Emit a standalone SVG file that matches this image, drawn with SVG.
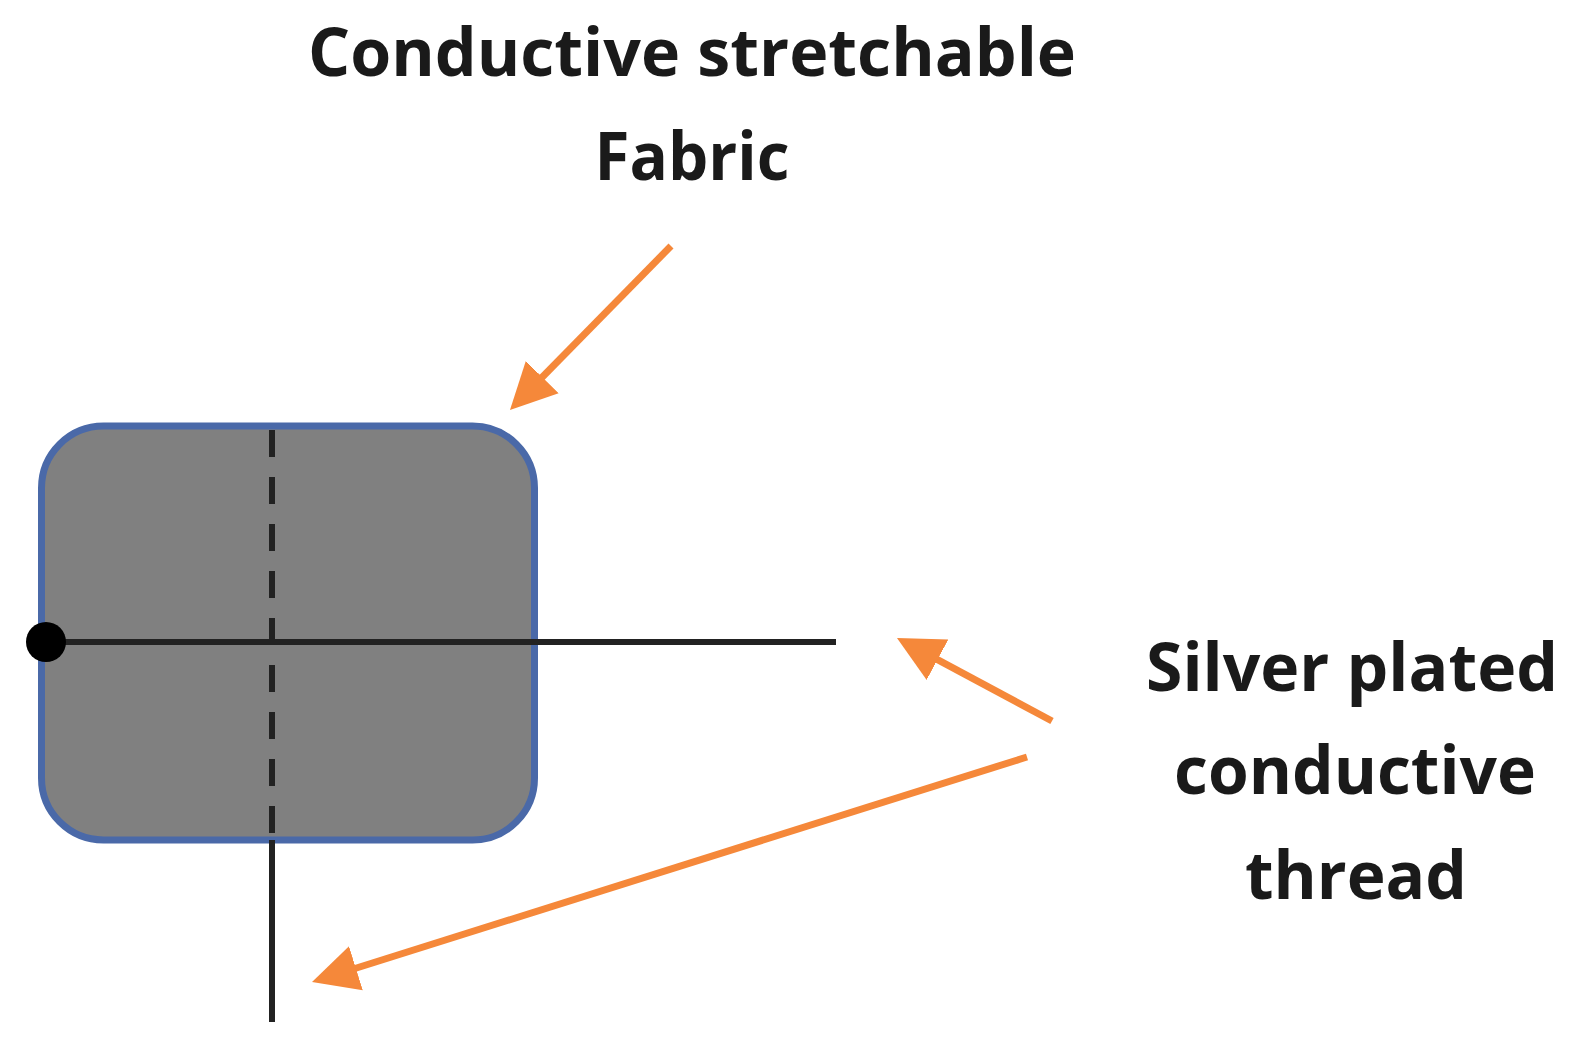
<svg xmlns="http://www.w3.org/2000/svg" width="1587" height="1053" viewBox="0 0 1587 1053">
<style>
.lbl{font-family:"Open Sans","Liberation Sans",sans-serif;font-weight:700;font-size:66px;fill:#1a1a1a}
.arr{stroke:#f5883a;stroke-width:7;fill:none;stroke-linecap:butt}
.thr{stroke:#222;stroke-width:6;fill:none}
</style>
<defs>
<marker id="ah" markerUnits="userSpaceOnUse" markerWidth="50" markerHeight="50" viewBox="0 0 50 50" refX="26" refY="25" orient="auto">
<path d="M0,2 L46,25 L0,48 Z" fill="#f5883a"/>
</marker>
</defs>
<rect width="1587" height="1053" fill="#ffffff"/>
<g id="fabric">
<rect x="41.5" y="426" width="493" height="414" rx="62" ry="62" fill="#808080" stroke="#4a69a8" stroke-width="7"/>
</g>
<g id="thread-vertical">
<line class="thr" x1="272" y1="430" x2="272" y2="840" stroke-dasharray="27,20"/>
<line class="thr" x1="272" y1="840" x2="272" y2="1022"/>
</g>
<g id="thread-horizontal">
<line class="thr" x1="46" y1="642" x2="836" y2="642"/>
<circle cx="46" cy="642" r="20" fill="#000"/>
</g>
<g id="label-fabric">
<text class="lbl" x="692" y="76" text-anchor="middle" textLength="768" lengthAdjust="spacingAndGlyphs">Conductive stretchable</text>
<text class="lbl" x="692" y="180" text-anchor="middle" textLength="195" lengthAdjust="spacingAndGlyphs">Fabric</text>
</g>
<g id="label-thread">
<text class="lbl" x="1352" y="691" text-anchor="middle" textLength="412" lengthAdjust="spacingAndGlyphs">Silver plated</text>
<text class="lbl" x="1355" y="794" text-anchor="middle" textLength="362" lengthAdjust="spacingAndGlyphs">conductive</text>
<text class="lbl" x="1356" y="899" text-anchor="middle" textLength="222" lengthAdjust="spacingAndGlyphs">thread</text>
</g>
<g id="connectors">
<line class="arr" x1="671" y1="246" x2="524" y2="395.7" marker-end="url(#ah)"/>
<line class="arr" x1="1052" y1="721" x2="914.6" y2="647.4" marker-end="url(#ah)"/>
<line class="arr" x1="1027" y1="757" x2="331.1" y2="976" marker-end="url(#ah)"/>
</g>
</svg>
